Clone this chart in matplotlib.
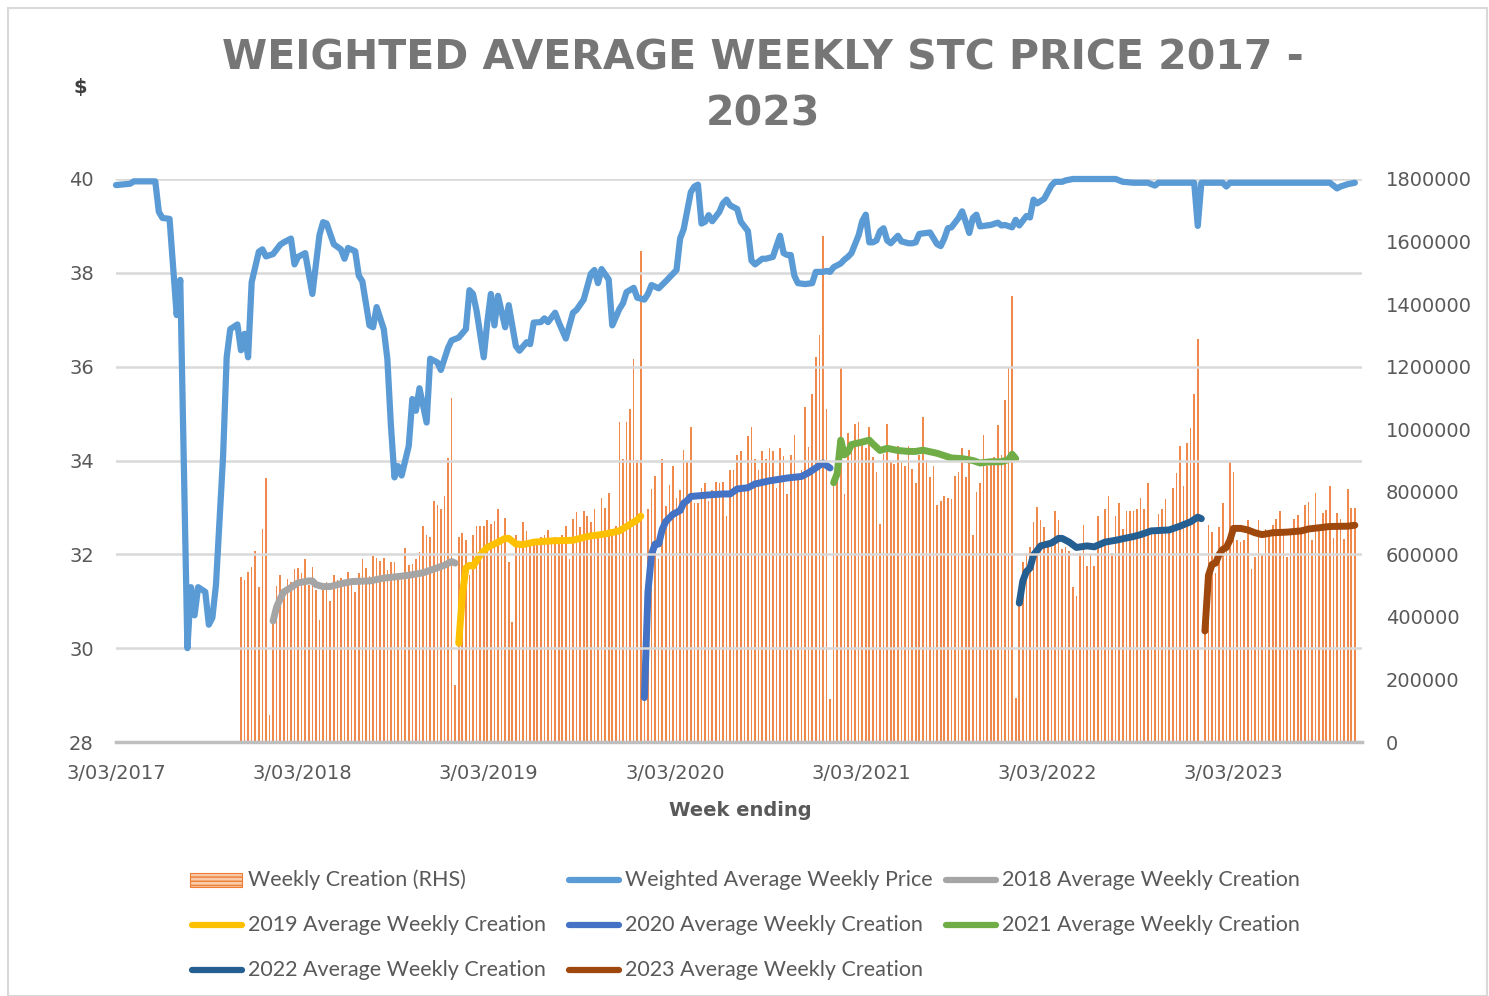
import datetime as dt
import matplotlib
matplotlib.use("Agg")
import matplotlib.pyplot as plt
from matplotlib.lines import Line2D
from matplotlib.patches import Rectangle
from matplotlib.ticker import FuncFormatter

START = dt.date(2017, 3, 3)

# weekly STC price ($), vertices: week number since 3/03/2017
price_week = [0, 4, 5, 11, 12, 13, 15, 17, 18, 20, 21, 22, 23, 25, 26, 27, 28, 30, 31, 32,
              34, 35, 36, 37, 38, 40, 41, 42, 44, 46, 47, 49, 50, 51, 53, 55, 57, 58, 59, 61,
              63, 64, 65, 67, 68, 69, 71, 72, 73, 75, 76, 77, 78, 79, 80, 82, 83, 84, 85, 87,
              88, 90, 91, 93, 94, 96, 98, 99, 100, 101, 103, 104, 105, 106, 107, 109, 110, 112, 113, 115,
              116, 117, 119, 120, 121, 123, 124, 126, 128, 129, 131, 133, 134, 135, 136, 138, 139, 141, 142, 143,
              145, 146, 148, 149, 150, 152, 154, 156, 157, 158, 159, 161, 162, 163, 164, 165, 166, 167, 169, 170,
              171, 172, 174, 175, 177, 178, 179, 181, 182, 184, 185, 186, 187, 188, 189, 190, 191, 193, 195, 196,
              198, 199, 200, 201, 203, 204, 205, 206, 207, 208, 209, 210, 211, 212, 213, 214, 215, 216, 217, 219,
              220, 222, 223, 224, 225, 227, 228, 230, 231, 232, 233, 234, 236, 237, 238, 239, 240, 241, 242, 244,
              245, 247, 248, 249, 251, 252, 253, 255, 256, 257, 258, 260, 262, 263, 265, 266, 268, 280, 282, 285,
              289, 291, 292, 302, 303, 304, 310, 311, 312, 340, 342, 343, 345, 347]
price_value = [39.87, 39.90, 39.95, 39.95, 39.30, 39.17, 39.15, 37.10, 37.85, 30.00, 31.30, 30.70, 31.30, 31.20, 30.50, 30.65, 31.35, 34.10, 36.20, 36.80,
               36.90, 36.35, 36.70, 36.20, 37.80, 38.45, 38.50, 38.35, 38.40, 38.60, 38.65, 38.73, 38.18, 38.34, 38.42, 37.55, 38.81, 39.08, 39.05, 38.61,
               38.50, 38.30, 38.53, 38.46, 37.94, 37.82, 36.88, 36.84, 37.27, 36.80, 36.17, 34.75, 33.64, 33.88, 33.68, 34.31, 35.31, 35.06, 35.54, 34.81,
               36.17, 36.09, 35.93, 36.40, 36.56, 36.62, 36.80, 37.63, 37.55, 37.19, 36.20, 36.95, 37.55, 36.88, 37.51, 36.84, 37.31, 36.44, 36.34, 36.52,
               36.48, 36.94, 36.95, 37.03, 36.95, 37.15, 36.95, 36.60, 37.15, 37.21, 37.43, 37.98, 38.06, 37.78, 38.08, 37.86, 36.88, 37.23, 37.35, 37.59,
               37.68, 37.47, 37.43, 37.55, 37.74, 37.67, 37.82, 37.98, 38.06, 38.73, 38.93, 39.72, 39.84, 39.88, 39.05, 39.09, 39.23, 39.10, 39.30, 39.48,
               39.56, 39.44, 39.36, 39.09, 38.89, 38.26, 38.18, 38.30, 38.30, 38.34, 38.57, 38.79, 38.42, 38.38, 38.38, 37.94, 37.78, 37.76, 37.78, 38.02,
               38.02, 38.04, 38.02, 38.12, 38.20, 38.28, 38.34, 38.42, 38.61, 38.80, 39.10, 39.24, 38.65, 38.65, 38.69, 38.89, 38.95, 38.69, 38.63, 38.79,
               38.67, 38.63, 38.63, 38.65, 38.83, 38.85, 38.86, 38.61, 38.57, 38.73, 38.95, 38.97, 39.17, 39.31, 39.09, 38.85, 39.17, 39.24, 38.99, 39.01,
               39.02, 39.07, 39.01, 39.02, 38.97, 39.13, 39.01, 39.21, 39.18, 39.56, 39.48, 39.58, 39.86, 39.94, 39.94, 39.97, 40.00, 40.00, 39.94, 39.92,
               39.92, 39.86, 39.92, 39.92, 39.00, 39.92, 39.92, 39.84, 39.92, 39.92, 39.80, 39.84, 39.89, 39.92]

# weekly creation (thousands of STCs), first bar is week 35 (3/11/2017)
creation_first_week = 35
creation_2017_18 = [527, 517, 545, 560, 612, 495, 681, 844, 86, 390,
                    500, 533, 485, 521, 513, 553, 556, 541, 584, 503,
                    560, 485, 391, 491, 510, 450, 533, 517, 524, 515,
                    545, 520, 480, 539, 584, 556, 530, 594, 588, 578,
                    588, 550, 574, 574, 530, 540, 619, 565, 570, 586,
                    607, 690, 663, 657, 770, 758, 746, 785, 908, 1099, 183]
creation_2019 = [657, 669, 645, 533, 663, 690, 690, 690, 710, 698,
                 707, 746, 645, 716, 574, 385, 663, 633, 702, 675,
                 645, 645, 633, 657, 663, 678, 639, 657, 645, 663,
                 690, 586, 714, 734, 686, 740, 722, 702, 746, 663,
                 781, 749, 797, 675, 692, 1024, 906, 1024, 1066, 1225, 900, 1571]
creation_2020 = [142, 746, 809, 852, 586, 906, 754, 823, 882, 781, 805,
                 935, 894, 1006, 764, 764, 811, 829, 770, 805, 832,
                 829, 832, 722, 870, 870, 918, 929, 823, 977, 1006,
                 906, 870, 929, 906, 941, 929, 811, 941, 915, 793,
                 918, 983, 858, 870, 1071, 944, 1113, 1231, 1302, 1618, 1066]
creation_2021 = [136, 820, 900, 1196, 793, 988, 930, 1018, 1024, 965, 940, 1006, 912, 864, 698, 920,
                 1018, 894, 888, 947, 894, 882,
                 947, 873, 829, 918, 1038, 900, 847, 882, 758, 770, 787, 781, 776, 852, 864,
                 941, 847, 935, 663, 799, 829, 983, 882, 894, 912, 1012, 918, 1095, 1196, 1427]
creation_2022 = [142, 444, 574, 604, 622, 704, 752, 710, 687, 622,
                 622, 740, 710, 616, 622, 610, 497, 468, 604, 693,
                 562, 598, 562, 722, 645, 746, 787, 604, 722, 764,
                 681, 740, 740,
                 740, 746, 781, 746, 829, 681, 675, 728, 746, 778,
                 681, 811, 861, 947, 820, 955, 1004, 1113, 1287, 0]
creation_2023 = [350, 695, 671, 539, 687, 764, 622, 894, 864, 645, 639,
                 645, 710, 553, 592, 710, 598, 681, 675, 693, 714,
                 738, 681, 592, 675, 714, 726, 683, 758, 766, 645,
                 797, 693, 731, 742, 817, 651, 731, 714, 648, 809, 749, 749]

# year-to-date average weekly creation (thousands)
avg2018_week = [44, 45, 46, 47, 49, 51, 54, 55, 56, 58, 60, 63, 66, 71, 75, 79, 82, 86, 89, 92, 94, 95]
avg2018 = [387, 432, 458, 480, 494, 509, 515, 515, 503, 497, 497, 506, 513, 515, 524, 529, 533, 541, 553, 565, 577, 572]
avg2019_week = [96, 97, 98, 99, 100, 102, 104, 107, 109, 110, 112, 114, 117, 122, 128, 132, 137, 141, 143, 146, 147]
avg2019 = [316, 468, 556, 565, 562, 598, 622, 639, 651, 651, 633, 631, 639, 643, 645, 657, 665, 675, 689, 710, 722]
avg2020_week = [148, 149, 150, 151, 152, 153, 154, 156, 158, 159, 160, 161, 166, 170, 172, 174, 177, 179,
                183, 188, 192, 194, 196, 198, 199, 200]
avg2020 = [142, 480, 600, 633, 633, 680, 705, 728, 740, 764, 772, 785, 790, 793, 793, 809, 813, 825,
           835, 844, 849, 861, 876, 892, 884, 876]
avg2021_week = [201, 202, 203, 204, 205, 206, 209, 211, 212, 214, 216, 219, 222, 224, 226, 230, 234, 237,
                240, 242, 245, 248, 250, 251, 252]
avg2021 = [829, 858, 965, 918, 927, 951, 959, 965, 953, 932, 939, 932, 929, 929, 933, 923, 908, 906,
           900, 892, 896, 896, 903, 920, 906]
avg2022_week = [253, 254, 255, 256, 257, 259, 261, 262, 264, 265, 267, 269, 272, 274, 277, 280, 285, 287,
                290, 295, 298, 301, 303, 304]
avg2022 = [444, 515, 545, 556, 598, 627, 633, 636, 651, 651, 639, 622, 627, 624, 639, 645, 657, 663,
           675, 678, 690, 704, 719, 714]
avg2023_week = [305, 306, 307, 308, 309, 310, 311, 312, 313, 315, 317, 319, 321, 324, 328, 332, 334, 340, 345, 347]
avg2023 = [355, 533, 568, 572, 600, 616, 622, 645, 683, 683, 678, 669, 663, 669, 671, 675, 681, 689, 690, 693]

tick_years = [2017, 2018, 2019, 2020, 2021, 2022, 2023]


def week(w):
    return START + dt.timedelta(days=7 * w)


W, H = 1489, 996
fig = plt.figure(figsize=(W / 100, H / 100), dpi=100)


def fx(x):
    return x / W


def fy(y):
    return 1 - y / H


ax = fig.add_axes([fx(116), fy(742), fx(1362) - fx(116), fy(179) - fy(742)])
ax2 = ax.twinx()
ax.set_zorder(3)
ax.patch.set_visible(False)
ax2.set_zorder(2)

grey = "#595959"

# bars
creation = creation_2017_18 + creation_2019 + creation_2020 + creation_2021 + creation_2022 + creation_2023
bar_dates = [week(creation_first_week + i) for i in range(len(creation))]
ax2.bar(bar_dates, [v * 1000 for v in creation], width=3.2, color="#EF8A4C", linewidth=0, zorder=1)

# yearly averages
yearly = [(avg2018_week, avg2018, "#A5A5A5"), (avg2019_week, avg2019, "#FFC000"),
          (avg2020_week, avg2020, "#4472C4"), (avg2021_week, avg2021, "#70AD47"),
          (avg2022_week, avg2022, "#255E91"), (avg2023_week, avg2023, "#9E480E")]
for wk, vals, col in yearly:
    ax2.plot([week(w) for w in wk], [v * 1000 for v in vals], color=col, lw=5,
             solid_capstyle="round", solid_joinstyle="round", zorder=3)

# price
ax.plot([week(w) for w in price_week], price_value, color="#5B9BD5", lw=4.5,
        solid_capstyle="round", solid_joinstyle="round", clip_on=False, zorder=4)

ax.set_xlim(START, START + dt.timedelta(days=2443))
ax.set_ylim(28, 40)
ax.set_yticks(range(28, 41, 2))
ax2.set_ylim(0, 1800000)
ax2.set_yticks(range(0, 1800001, 200000))
ax2.yaxis.set_major_formatter(FuncFormatter(lambda v, p: f"{int(v)}"))

ax.set_xticks([dt.date(y, 3, 3) for y in tick_years])
ax.set_xticklabels([f"3/03/{y}" for y in tick_years])

ax.yaxis.grid(True, color="#D9D9D9", lw=1.8, zorder=0)
ax.set_axisbelow(True)
for a in (ax, ax2):
    for s in a.spines.values():
        s.set_visible(False)
ax.spines["bottom"].set_visible(True)
ax.spines["bottom"].set_color("#BFBFBF")
ax.spines["bottom"].set_linewidth(2.5)

ax.tick_params(axis="y", length=0, pad=16, labelsize=14, labelcolor=grey)
ax.tick_params(axis="x", length=0, pad=16, labelsize=14, labelcolor=grey)
ax2.tick_params(axis="y", length=0, pad=17, labelsize=14, labelcolor=grey)

# titles and labels
fig.text(fx(763), fy(58), "WEIGHTED AVERAGE WEEKLY STC PRICE 2017 -", ha="center", va="center",
         fontsize=29.5, fontweight="bold", color="#767676")
fig.text(fx(763), fy(115), "2023", ha="center", va="center",
         fontsize=29.5, fontweight="bold", color="#767676")
fig.text(fx(80), fy(87), "$", ha="center", va="center", fontsize=14, fontweight="bold", color="#404040")
fig.text(fx(740), fy(810), "Week ending", ha="center", va="center", fontsize=14,
         fontweight="bold", color=grey)

# legend
legend_items = [("Weekly Creation (RHS)", None), ("Weighted Average Weekly Price", "#5B9BD5"),
                ("2018 Average Weekly Creation", "#A5A5A5"), ("2019 Average Weekly Creation", "#FFC000"),
                ("2020 Average Weekly Creation", "#4472C4"), ("2021 Average Weekly Creation", "#70AD47"),
                ("2022 Average Weekly Creation", "#255E91"), ("2023 Average Weekly Creation", "#9E480E")]
col_x = [190, 567, 944]
row_y = [880, 925, 970]
for i, (label, col) in enumerate(legend_items):
    x0 = col_x[i % 3]
    y0 = row_y[i // 3]
    if col is None:
        fig.add_artist(Rectangle((fx(x0), fy(y0 + 7)), fx(52), 14 / H, transform=fig.transFigure,
                                 facecolor="#F8CBAD", edgecolor="#ED7D31", hatch="----", lw=0.8))
    else:
        fig.add_artist(Line2D([fx(x0 + 2), fx(x0 + 52)], [fy(y0), fy(y0)], transform=fig.transFigure,
                              color=col, lw=4.5, solid_capstyle="round"))
    fig.text(fx(x0 + 58), fy(y0), label, ha="left", va="center", fontsize=15.5,
             family=["Lato", "DejaVu Sans"], color=grey)

# chart border
fig.add_artist(Rectangle((fx(8), fy(996)), fx(1479), fy(8) - fy(996), transform=fig.transFigure,
                         fill=False, edgecolor="#D9D9D9", lw=1.5))

fig.savefig("out.png", dpi=100)
